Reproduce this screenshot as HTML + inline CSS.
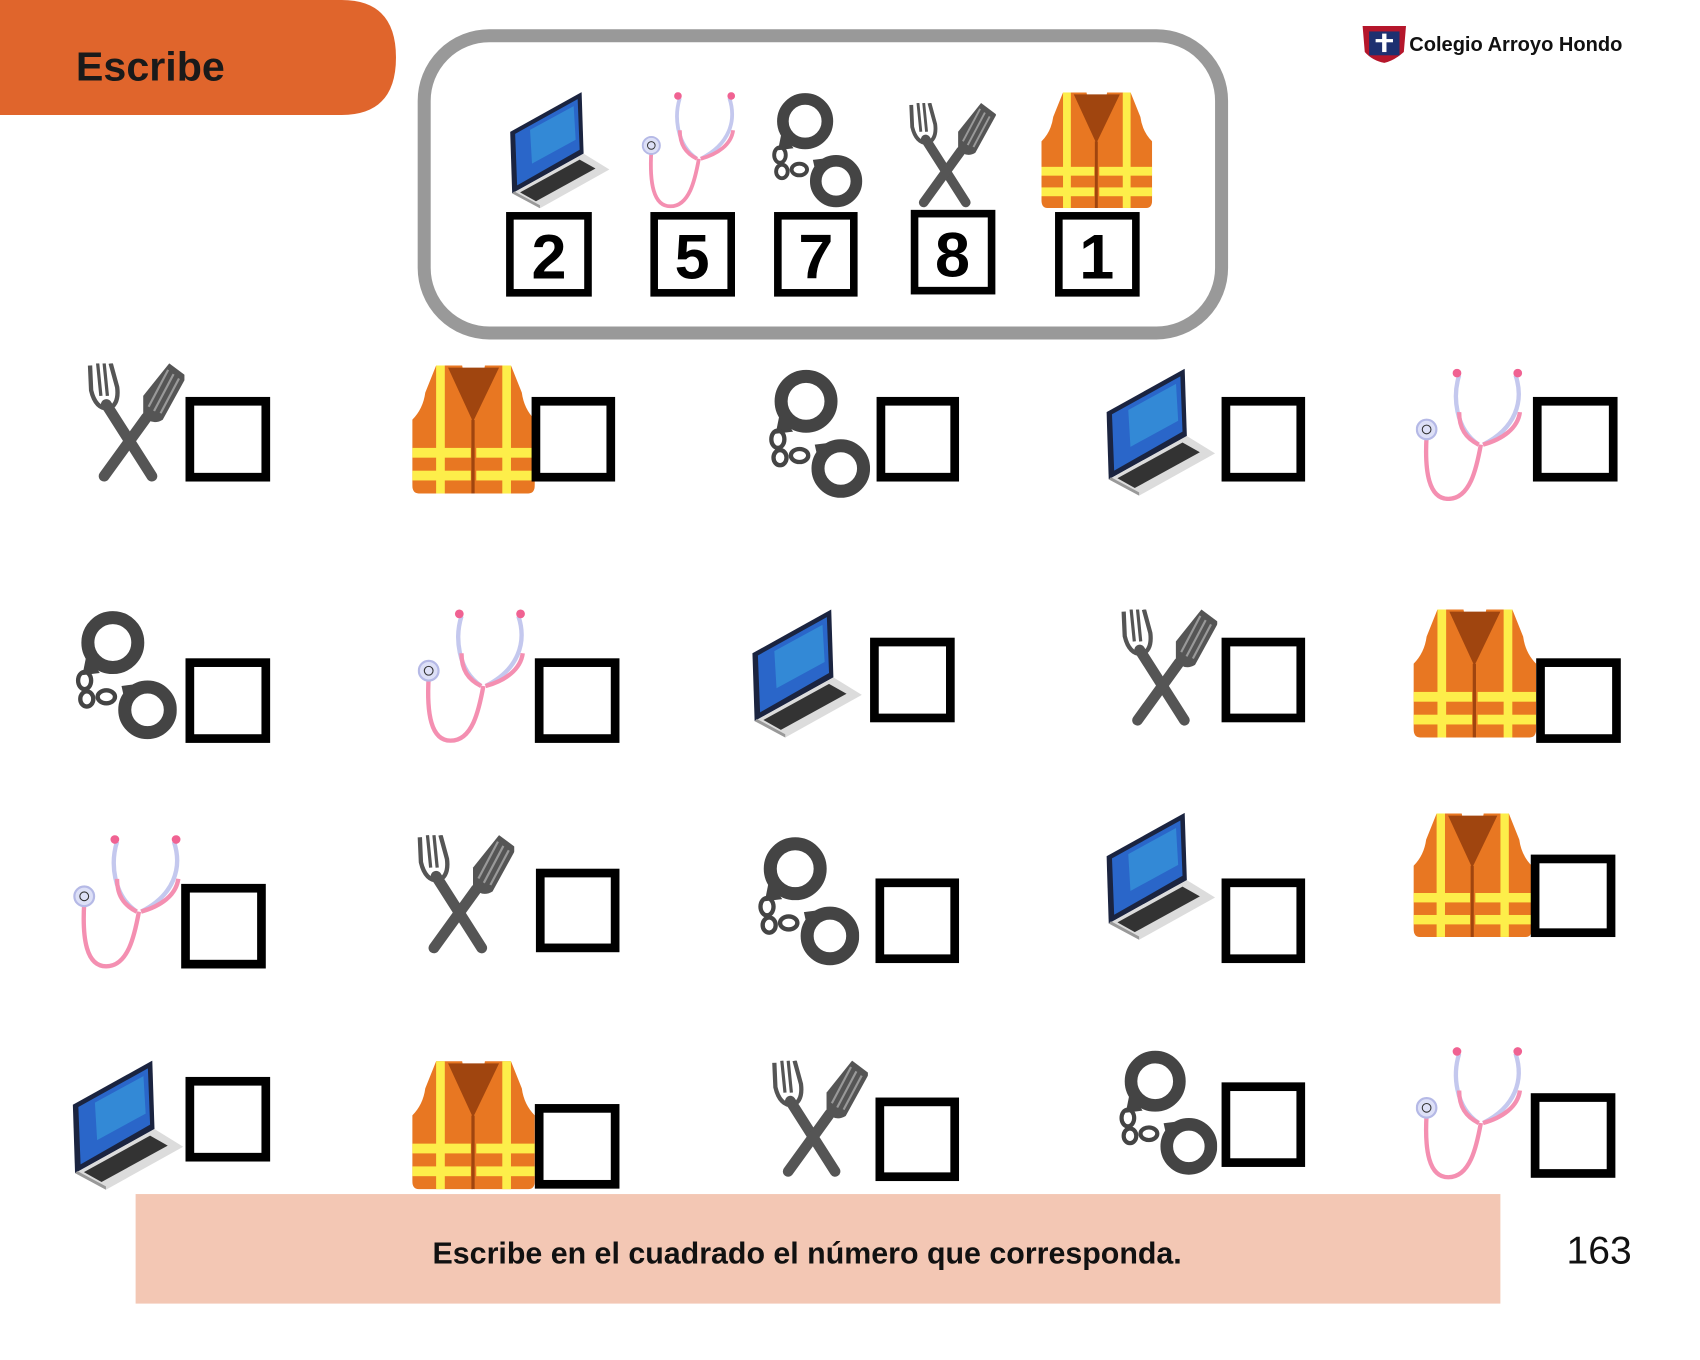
<!DOCTYPE html>
<html><head><meta charset="utf-8"><style>
html,body{margin:0;padding:0;background:#fff;}
body{width:1700px;height:1360px;overflow:hidden;}
svg{display:block}
text{font-family:"Liberation Sans","DejaVu Sans",sans-serif;}
</style></head><body>
<svg width="1700" height="1360" viewBox="0 0 1567 1254" preserveAspectRatio="none" xmlns="http://www.w3.org/2000/svg">
<defs>
<symbol id="fork" viewBox="0 0 90 110">
 <line x1="18" y1="38" x2="60" y2="104" stroke="#555" stroke-width="10" stroke-linecap="round"/>
 <path d="M3,2 L4,25 Q8,42 20,42 Q30,38 28,22 L22,0" fill="none" stroke="#555" stroke-width="4"/>
 <line x1="10" y1="0" x2="13" y2="30" stroke="#555" stroke-width="3"/>
 <line x1="16" y1="0" x2="19" y2="30" stroke="#555" stroke-width="3"/>
 <line x1="55" y1="50" x2="16" y2="104" stroke="#555" stroke-width="10" stroke-linecap="round"/>
 <path d="M52,30 L76,0 L92,12 L70,52 Q60,58 52,48 Z" fill="#555"/>
 <line x1="62" y1="44" x2="80" y2="10" stroke="#999" stroke-width="2"/>
 <line x1="68" y1="46" x2="85" y2="14" stroke="#999" stroke-width="2"/>
 <line x1="57" y1="40" x2="75" y2="6" stroke="#999" stroke-width="2"/>
</symbol>
<symbol id="vest" viewBox="0 0 113 118">
 <path d="M22,0 L46,0 L56,50 L56,118 L6,118 Q0,118 0,110 L0,50 Q10,40 12,25 Z" fill="#e87722"/>
 <path d="M91,0 L67,0 L57,50 L57,118 L107,118 Q113,118 113,110 L113,50 Q103,40 101,25 Z" fill="#e87722"/>
 <path d="M33,2 L80,2 L56,52 Z" fill="#a0450f"/>
 <line x1="56" y1="50" x2="56" y2="118" stroke="#a0450f" stroke-width="3"/>
 <rect x="22" y="0" width="8" height="118" fill="#fdee4a"/>
 <rect x="83" y="0" width="8" height="118" fill="#fdee4a"/>
 <rect x="0" y="76" width="54" height="9" fill="#fdee4a"/>
 <rect x="59" y="76" width="54" height="9" fill="#fdee4a"/>
 <rect x="0" y="97" width="54" height="9" fill="#fdee4a"/>
 <rect x="59" y="97" width="54" height="9" fill="#fdee4a"/>
</symbol>
<symbol id="cuffs" viewBox="0 0 97 120">
 <circle cx="38" cy="30" r="23" fill="none" stroke="#444" stroke-width="12"/>
 <path d="M14,40 L26,58 L10,60 Z" fill="#444"/>
 <circle cx="70" cy="92" r="21" fill="none" stroke="#444" stroke-width="12"/>
 <path d="M46,70 L62,68 L50,88 Z" fill="#444"/>
 <ellipse cx="12" cy="65" rx="6" ry="8" fill="none" stroke="#444" stroke-width="4"/>
 <ellipse cx="14" cy="82" rx="6" ry="7" fill="none" stroke="#444" stroke-width="4"/>
 <ellipse cx="32" cy="80" rx="8" ry="6" fill="none" stroke="#444" stroke-width="4"/>
</symbol>
<symbol id="laptop" viewBox="0 0 100 117">
 <polygon points="0,40 72,0 74,62 2,102" fill="#1b2440"/>
 <polygon points="5,42 68,7 70,58 7,94" fill="#2a66c9"/>
 <polygon points="20,38 64,14 66,48 22,72" fill="#3aa0e0" opacity=".6"/>
 <polygon points="2,102 74,62 100,78 30,117" fill="#dcdcdc"/>
 <polygon points="10,101 70,68 86,77 26,110" fill="#333"/>
 <polygon points="2,102 30,117 30,114 4,100" fill="#999"/>
</symbol>
<symbol id="steth" viewBox="0 0 107 122">
 <path d="M40,6 C34,25 36,55 58,70" fill="none" stroke="#c4c8ee" stroke-width="4"/>
 <path d="M92,6 C100,30 92,55 62,70" fill="none" stroke="#c4c8ee" stroke-width="4"/>
 <path d="M40,40 C40,55 46,64 58,70 M96,40 C94,55 80,65 62,70" fill="none" stroke="#f48fb1" stroke-width="4"/>
 <path d="M60,70 C56,92 50,120 30,120 C12,120 8,95 10,62" fill="none" stroke="#f48fb1" stroke-width="4"/>
 <circle cx="38" cy="4" r="4" fill="#f06292"/>
 <circle cx="94" cy="4" r="4" fill="#f06292"/>
 <circle cx="10" cy="56" r="9" fill="#dde0f7" stroke="#b5b9e6" stroke-width="2"/>
 <circle cx="10" cy="56" r="4" fill="none" stroke="#333" stroke-width="1"/>
</symbol>
</defs>

<path d="M0,0 L315,0 Q365,0 365,53 Q365,106 315,106 L0,106 Z" fill="#e0652c"/>
<text x="70" y="74" font-size="38" font-weight="bold" fill="#1a1a1a">Escribe</text>

<path d="M1256,24 L1296,24 L1294,48 Q1285,56 1276,58 Q1265,56 1258,48 Z" fill="#b5162b"/>
<rect x="1262" y="29" width="28" height="22" fill="#1e3070"/>
<rect x="1274" y="31" width="4" height="17" fill="#fff"/>
<rect x="1268" y="36" width="16" height="3" fill="#fff"/>
<text x="1299" y="47" font-size="18.5" font-weight="bold" fill="#111">Colegio Arroyo Hondo</text>

<rect x="391" y="33" width="735" height="274" rx="60" ry="60" fill="#fff" stroke="#999" stroke-width="12"/>
<use href="#laptop" x="465" y="85" width="102" height="107"/>
<use href="#steth" x="590" y="85" width="97" height="107"/>
<use href="#cuffs" x="708" y="85" width="87" height="107"/>
<use href="#fork" x="836" y="95" width="82" height="97"/>
<use href="#vest" x="960" y="85" width="102" height="107"/>
<g fill="#fff" stroke="#000" stroke-width="7">
 <rect x="470" y="199" width="72" height="71"/>
 <rect x="603" y="199" width="71" height="71"/>
 <rect x="717" y="199" width="70" height="71"/>
 <rect x="843" y="197" width="71" height="71"/>
 <rect x="976" y="199" width="71" height="71"/>
</g>
<g font-size="58" font-weight="bold" text-anchor="middle" fill="#000">
 <text x="506" y="257">2</text><text x="638" y="257">5</text><text x="752" y="257">7</text><text x="878" y="255">8</text><text x="1011" y="257">1</text>
</g>

<use href="#fork" x="80" y="335" width="90" height="110"/>
<use href="#vest" x="380" y="337" width="113" height="118"/>
<use href="#cuffs" x="705" y="340" width="97" height="120"/>
<use href="#laptop" x="1020" y="340" width="100" height="117"/>
<use href="#steth" x="1305" y="340" width="107" height="122"/>

<use href="#cuffs" x="66" y="562" width="97" height="121"/>
<use href="#steth" x="385" y="562" width="108" height="123"/>
<use href="#laptop" x="688" y="562" width="112" height="118"/>
<use href="#fork" x="1032" y="562" width="90" height="108"/>
<use href="#vest" x="1303" y="562" width="113" height="118"/>

<use href="#steth" x="66" y="770" width="111" height="123"/>
<use href="#fork" x="384" y="770" width="90" height="110"/>
<use href="#cuffs" x="695" y="770" width="97" height="122"/>
<use href="#laptop" x="1020" y="748" width="100" height="120"/>
<use href="#vest" x="1303" y="748" width="109" height="118"/>

<use href="#laptop" x="66" y="978" width="104" height="119"/>
<use href="#vest" x="380" y="978" width="113" height="119"/>
<use href="#fork" x="710" y="978" width="90" height="108"/>
<use href="#cuffs" x="1028" y="965" width="94" height="122"/>
<use href="#steth" x="1305" y="965" width="107" height="123"/>

<g fill="none" stroke="#000" stroke-width="8">
 <rect x="175" y="370" width="70" height="70"/>
 <rect x="494" y="370" width="69" height="70"/>
 <rect x="812" y="370" width="68" height="70"/>
 <rect x="1130" y="370" width="69" height="70"/>
 <rect x="1417" y="370" width="70" height="70"/>

 <rect x="175" y="611" width="70" height="70"/>
 <rect x="497" y="611" width="70" height="70"/>
 <rect x="806" y="592" width="70" height="70"/>
 <rect x="1130" y="592" width="69" height="70"/>
 <rect x="1420" y="611" width="70" height="70"/>

 <rect x="171" y="819" width="70" height="70"/>
 <rect x="498" y="805" width="69" height="69"/>
 <rect x="811" y="814" width="69" height="70"/>
 <rect x="1130" y="814" width="69" height="70"/>
 <rect x="1415" y="792" width="70" height="68"/>

 <rect x="175" y="997" width="70" height="70"/>
 <rect x="497" y="1022" width="70" height="70"/>
 <rect x="811" y="1016" width="69" height="69"/>
 <rect x="1130" y="1002" width="69" height="70"/>
 <rect x="1415" y="1012" width="70" height="70"/>
</g>

<rect x="125" y="1101" width="1258" height="101" fill="#f3c7b4"/>
<text x="744" y="1165" font-size="28" font-weight="bold" text-anchor="middle" fill="#111">Escribe en el cuadrado el número que corresponda.</text>
<text x="1444" y="1165" font-size="36" fill="#111">163</text>
</svg>
</body></html>
